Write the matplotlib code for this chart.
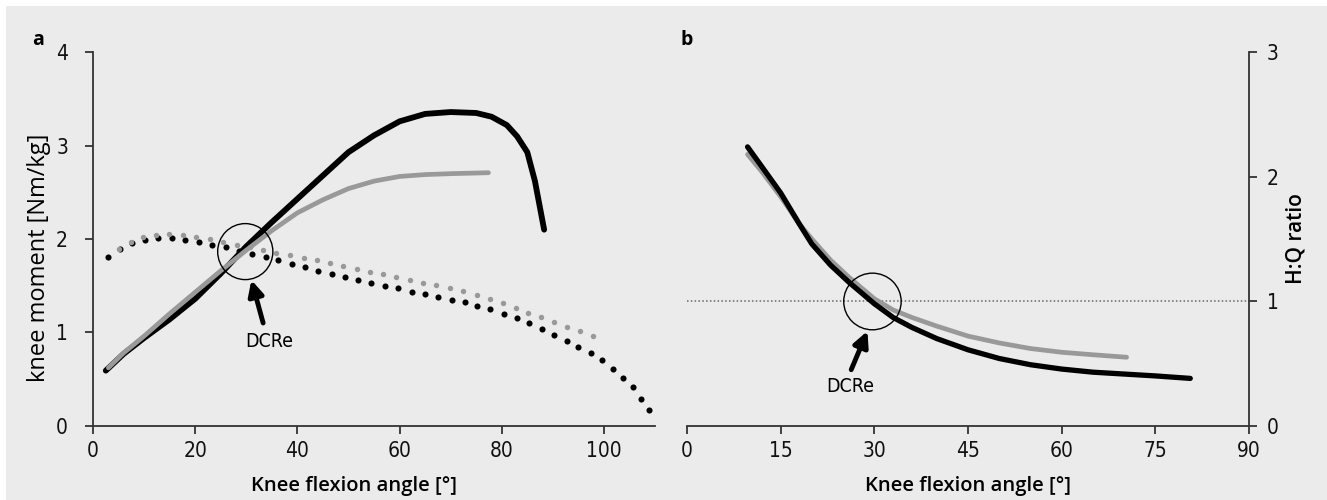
import numpy as np
import matplotlib
matplotlib.use('Agg')
import matplotlib.pyplot as plt
from matplotlib.patches import Ellipse, Rectangle

# --- panel a: knee moments [Nm/kg] ---
a_line_black_x = [2.5, 6, 10, 15, 20, 25, 30, 35, 40, 45, 50, 55, 60, 65, 70, 75, 78, 81, 83, 85, 86.5, 88.3]
a_line_black_y = [0.59, 0.77, 0.94, 1.14, 1.36, 1.63, 1.92, 2.18, 2.43, 2.68, 2.93, 3.11, 3.26, 3.34, 3.36, 3.35, 3.31, 3.22, 3.10, 2.93, 2.62, 2.10]
a_line_gray_x = [3, 6, 10, 15, 20, 25, 30, 35, 40, 45, 50, 55, 60, 65, 70, 77.4]
a_line_gray_y = [0.62, 0.78, 0.96, 1.20, 1.43, 1.66, 1.88, 2.09, 2.28, 2.42, 2.54, 2.62, 2.67, 2.69, 2.70, 2.71]

a_dot_black_x = [3.0, 5.3, 7.6, 10.2, 12.8, 15.4, 18.1, 20.7, 23.3, 26.0, 28.6, 31.2, 33.8, 36.3, 38.9,
                 41.5, 44.1, 46.7, 49.3, 51.9, 54.5, 57.1, 59.7, 62.4, 65.0, 67.6, 70.2, 72.8, 75.2,
                 77.8, 80.4, 82.9, 85.4, 87.8, 90.2, 92.7, 95.0, 97.4, 99.7, 101.8, 103.8, 105.6, 107.3, 108.8]
a_dot_black_y = [1.81, 1.89, 1.955, 1.99, 2.01, 2.01, 1.99, 1.97, 1.94, 1.91, 1.875, 1.84, 1.81, 1.776, 1.73,
                 1.70, 1.66, 1.62, 1.59, 1.56, 1.53, 1.50, 1.47, 1.43, 1.41, 1.38, 1.35, 1.32, 1.28,
                 1.25, 1.20, 1.155, 1.10, 1.04, 0.975, 0.91, 0.84, 0.775, 0.70, 0.61, 0.51, 0.41, 0.29, 0.17]
a_dot_gray_x = [5.1, 7.4, 9.7, 12.3, 14.9, 17.6, 20.2, 22.8, 25.4, 28.1, 30.7, 33.3, 35.9, 38.6, 41.2,
                43.8, 46.4, 49.0, 51.6, 54.2, 56.8, 59.4, 62.0, 64.6, 67.2, 69.9, 72.5, 75.1, 77.7,
                80.2, 82.7, 85.2, 87.7, 90.2, 92.7, 95.3, 97.8]
a_dot_gray_y = [1.89, 1.97, 2.02, 2.04, 2.05, 2.04, 2.02, 2.00, 1.97, 1.94, 1.91, 1.88, 1.855, 1.83, 1.80,
                1.77, 1.74, 1.71, 1.68, 1.65, 1.62, 1.59, 1.56, 1.53, 1.505, 1.47, 1.44, 1.40, 1.36,
                1.31, 1.26, 1.21, 1.16, 1.11, 1.06, 1.015, 0.96]

# --- panel b: H:Q ratio ---
b_black_x = [9.7, 12, 15, 18, 20, 23, 26, 30, 33, 36, 40, 45, 50, 55, 60, 65, 70, 75, 80.6]
b_black_y = [2.24, 2.08, 1.87, 1.62, 1.46, 1.29, 1.15, 0.98, 0.87, 0.79, 0.70, 0.61, 0.54, 0.49, 0.455, 0.43, 0.415, 0.40, 0.38]
b_gray_x = [9.7, 12, 15, 18, 20, 23, 26, 30, 33, 36, 40, 45, 50, 55, 60, 65, 70.4]
b_gray_y = [2.18, 2.04, 1.84, 1.62, 1.50, 1.33, 1.19, 1.02, 0.93, 0.87, 0.80, 0.72, 0.665, 0.62, 0.59, 0.57, 0.55]

a_xticks = [0, 20, 40, 60, 80, 100]
a_yticks = [0, 1, 2, 3, 4]
b_xticks = [0, 15, 30, 45, 60, 75, 90]
b_yticks = [0, 1, 2, 3]

BLACK = '#000000'
GRAY = '#999999'
BG = '#ebebeb'
AXC = '#333333'
TICKFONT = ['Liberation Sans Narrow', 'DejaVu Sans']
LABELFONT = ['Open Sans', 'DejaVu Sans']

fig = plt.figure(figsize=(13.27, 5), dpi=100)
fig.patches.append(Rectangle((6 / 1327, 0), 1, 1 - 6 / 500, transform=fig.transFigure,
                             facecolor=BG, edgecolor='none', zorder=-10))

ax1 = fig.add_axes([0.0701, 0.1486, 0.4235, 0.7468])
ax2 = fig.add_axes([0.5177, 0.1486, 0.4235, 0.7468])


def style_ticks(ax):
    ax.tick_params(colors=AXC, width=1.3, length=6, labelsize=15, labelcolor='#111111')
    for lab in ax.get_xticklabels() + ax.get_yticklabels():
        lab.set_family(TICKFONT)
        lab.set_stretch('condensed')


# panel a
ax1.set_facecolor('none')
ax1.plot(a_line_black_x, a_line_black_y, color=BLACK, lw=4.2, solid_capstyle='round', clip_on=False, zorder=3)
ax1.plot(a_line_gray_x, a_line_gray_y, color=GRAY, lw=3.4, solid_capstyle='round', clip_on=False, zorder=4)
ax1.plot(a_dot_black_x, a_dot_black_y, 'o', color=BLACK, ms=4.4, mew=0, clip_on=False, zorder=3)
ax1.plot(a_dot_gray_x, a_dot_gray_y, 'o', color=GRAY, ms=3.9, mew=0, clip_on=False, zorder=4)

ax1.set_xlim(0, 110)
ax1.set_ylim(0, 4)
ax1.set_xticks(a_xticks)
ax1.set_yticks(a_yticks)
ax1.spines[['top', 'right']].set_visible(False)
for s in ('left', 'bottom'):
    ax1.spines[s].set_color(AXC)
    ax1.spines[s].set_linewidth(1.3)
style_ticks(ax1)
ax1.tick_params(axis='y', pad=12)
ax1.tick_params(axis='x', pad=5)

ax1.add_patch(Ellipse((29.8, 1.865), 10.8, 0.60, fill=False, ec=BLACK, lw=1.0, zorder=5))
ax1.annotate('', xy=(31.0, 1.56), xytext=(33.3, 1.10),
             arrowprops=dict(arrowstyle='-|>,head_length=0.9,head_width=0.45', color=BLACK, lw=3.5,
                             shrinkA=0, shrinkB=0), zorder=6)
ax1.text(34.4, 0.90, 'DCRe', ha='center', va='center', fontsize=14, family=TICKFONT, stretch='condensed')

ax1.set_xlabel('Knee flexion angle [°]', fontsize=14.5, family=LABELFONT, fontweight='semibold')
ax1.xaxis.set_label_coords(0.465, -0.135)
ax1.set_ylabel('knee moment [Nm/kg]', fontsize=17, family=LABELFONT)
ax1.yaxis.set_label_coords(-0.075, 0.45)

# panel b
ax2.set_facecolor('none')
ax2.plot(b_gray_x, b_gray_y, color=GRAY, lw=3.4, solid_capstyle='round', clip_on=False, zorder=3)
ax2.plot(b_black_x, b_black_y, color=BLACK, lw=3.8, solid_capstyle='round', clip_on=False, zorder=4)
ax2.axhline(1, xmin=0, xmax=1, color='#666666', lw=1.1, ls=(0, (1, 1.5)), zorder=2)

ax2.set_xlim(0, 90)
ax2.set_ylim(0, 3)
ax2.set_xticks(b_xticks)
ax2.set_yticks(b_yticks)
ax2.yaxis.tick_right()
ax2.yaxis.set_label_position('right')
ax2.spines[['top', 'left']].set_visible(False)
for s in ('right', 'bottom'):
    ax2.spines[s].set_color(AXC)
    ax2.spines[s].set_linewidth(1.3)
style_ticks(ax2)
ax2.tick_params(axis='y', pad=7)
ax2.tick_params(axis='x', pad=5)

ax2.add_patch(Ellipse((29.7, 0.998), 9.2, 0.455, fill=False, ec=BLACK, lw=1.0, zorder=5))
ax2.annotate('', xy=(28.9, 0.76), xytext=(26.3, 0.45),
             arrowprops=dict(arrowstyle='-|>,head_length=0.9,head_width=0.45', color=BLACK, lw=3.5,
                             shrinkA=0, shrinkB=0), zorder=6)
ax2.text(26.1, 0.315, 'DCRe', ha='center', va='center', fontsize=14, family=TICKFONT, stretch='condensed')

ax2.set_xlabel('Knee flexion angle [°]', fontsize=14.5, family=LABELFONT, fontweight='semibold')
ax2.xaxis.set_label_coords(0.5, -0.135)
ax2.set_ylabel('H:Q ratio', fontsize=15, family=LABELFONT, fontweight='semibold')
ax2.yaxis.set_label_coords(1.065, 0.5)

fig.text(38 / 1327, 1 - 40 / 500, 'a', fontsize=14, fontweight='bold', family=LABELFONT, ha='center', va='center')
fig.text(687 / 1327, 1 - 40 / 500, 'b', fontsize=14, fontweight='bold', family=LABELFONT, ha='center', va='center')

fig.savefig('out.png', dpi=100)
